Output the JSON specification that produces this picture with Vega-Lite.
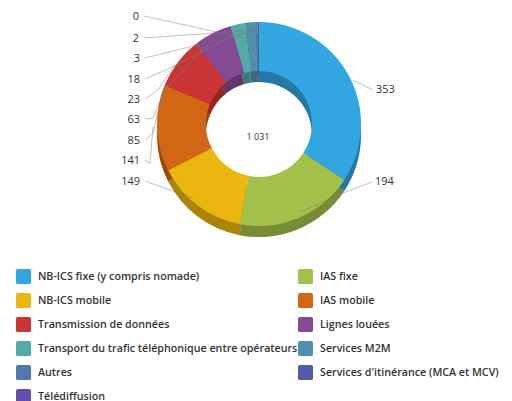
{"$schema":"https://vega.github.io/schema/vega-lite/v6.json","width":512,"height":248,"padding":0,"background":"white","view":{"stroke":null},
"config":{"font":"Open Sans"},
"datasets":{"slices":[
{"category":"NB-ICS fixe (y compris nomade)","value":353,"rank":1},
{"category":"IAS fixe","value":194,"rank":2},
{"category":"NB-ICS mobile","value":149,"rank":3},
{"category":"IAS mobile","value":141,"rank":4},
{"category":"Transmission de données","value":85,"rank":5},
{"category":"Lignes louées","value":63,"rank":6},
{"category":"Transport du trafic téléphonique entre opérateurs","value":23,"rank":7},
{"category":"Services M2M","value":18,"rank":8},
{"category":"Autres","value":3,"rank":9},
{"category":"Services d'itinérance (MCA et MCV)","value":2,"rank":10},
{"category":"Télédiffusion","value":0,"rank":11}],
"leaders":[
{"label":"0","side":"left","step":0,"anchor":1},{"label":"0","side":"left","step":1,"anchor":2},
{"label":"2","side":"left","step":0,"anchor":3},{"label":"2","side":"left","step":1,"anchor":4},
{"label":"3","side":"left","step":0,"anchor":5},{"label":"3","side":"left","step":1,"anchor":6},{"label":"3","side":"left","step":2,"anchor":7},
{"label":"18","side":"left","step":0,"anchor":8},{"label":"18","side":"left","step":1,"anchor":9},{"label":"18","side":"left","step":2,"anchor":10},{"label":"18","side":"left","step":3,"anchor":11},
{"label":"23","side":"left","step":0,"anchor":12},{"label":"23","side":"left","step":1,"anchor":13},{"label":"23","side":"left","step":2,"anchor":14},{"label":"23","side":"left","step":3,"anchor":15},
{"label":"63","side":"left","step":0,"anchor":16},{"label":"63","side":"left","step":1,"anchor":17},{"label":"63","side":"left","step":2,"anchor":18},{"label":"63","side":"left","step":3,"anchor":19},
{"label":"85","side":"left","step":0,"anchor":20},{"label":"85","side":"left","step":1,"anchor":21},{"label":"85","side":"left","step":2,"anchor":22},{"label":"85","side":"left","step":3,"anchor":23},
{"label":"141","side":"left","step":0,"anchor":24},{"label":"141","side":"left","step":1,"anchor":25},{"label":"141","side":"left","step":2,"anchor":26},
{"label":"149","side":"left","step":0,"anchor":27},{"label":"149","side":"left","step":1,"anchor":28},
{"label":"353","side":"right","step":0,"anchor":29},{"label":"353","side":"right","step":1,"anchor":30},
{"label":"194","side":"right","step":0,"anchor":31},{"label":"194","side":"right","step":1,"anchor":32},{"label":"194","side":"right","step":2,"anchor":33}],
"total":[{"total":"1 031"}]},
"layer":[
{"data":{"name":"slices"},"mark":{"type":"arc","outerRadius":102,"innerRadius":53,"yOffset":11,"xOffset":3},
"encoding":{"theta":{"field":"value","type":"quantitative","stack":true},"order":{"field":"rank","type":"quantitative"},
"color":{"field":"category","type":"nominal","scale":{"domain":["NB-ICS fixe (y compris nomade)","IAS fixe","NB-ICS mobile","IAS mobile","Transmission de données","Lignes louées","Transport du trafic téléphonique entre opérateurs","Services M2M","Autres","Services d'itinérance (MCA et MCV)","Télédiffusion"],"range":["#31a6e0","#a3c04a","#ebb60f","#d26614","#cb3535","#844b94","#53aaa6","#4f90ab","#5279ab","#535ca9","#634fac"]},
"legend":{"orient":"none","legendX":16,"legendY":269,"direction":"horizontal","columns":2,"title":null,"symbolType":"M-1,-0.75 Q-1,-1 -0.75,-1 L0.75,-1 Q1,-1 1,-0.75 L1,0.75 Q1,1 0.75,1 L-0.75,1 Q-1,1 -1,0.75 Z","symbolSize":225,"symbolStrokeWidth":0,"symbolOpacity":1,"labelFont":"Open Sans","labelFontSize":10.7,"labelFontWeight":600,"labelColor":"#333333","labelLimit":300,"labelOffset":7,"columnPadding":0,"rowPadding":9,"gridAlign":"all"}}}},
{"data":{"name":"slices"},"mark":{"type":"arc","outerRadius":102,"innerRadius":53,"yOffset":11,"xOffset":3,"fill":"#000000","fillOpacity":0.27},
"encoding":{"theta":{"field":"value","type":"quantitative","stack":true},"order":{"field":"rank","type":"quantitative"}}},
{"data":{"name":"slices"},"mark":{"type":"arc","outerRadius":102,"innerRadius":53,"xOffset":3},
"encoding":{"theta":{"field":"value","type":"quantitative","stack":true},"order":{"field":"rank","type":"quantitative"},"color":{"field":"category","type":"nominal"}}},
{"data":{"name":"leaders"},"mark":{"type":"line","stroke":"#777777","strokeWidth":1,"opacity":0.45,"interpolate":"linear"},
"encoding":{"x":{"field":"anchor","type":"quantitative","axis":null,"scale":{"domain":[1,2,3,4,5,6,7,8,9,10,11,12,13,14,15,16,17,18,19,20,21,22,23,24,25,26,27,28,29,30,31,32,33],"range":[144,258,144,258,145,197,257,145,170,230,254,145,158,173,232,145,153,165,202,145,153,163,190,145,150,153,145,193,373,353,372,343,300],"nice":false,"zero":false,"clamp":false}},
"y":{"field":"anchor","type":"quantitative","axis":null,"scale":{"domain":[1,2,3,4,5,6,7,8,9,10,11,12,13,14,15,16,17,18,19,20,21,22,23,24,25,26,27,28,29,30,31,32,33],"range":[16,41,38,30,58,45,30,79,68,37,30,99,90,67,37,119,118,90,50,140,133,90,65,160,163,127,181,198,90,80,182,193,212],"nice":false,"zero":false}},
"detail":{"field":"label","type":"nominal"},"order":{"field":"step","type":"quantitative"}}},
{"data":{"name":"leaders"},"transform":[{"filter":"datum.step == 0 && datum.side == 'left'"}],"mark":{"type":"text","align":"right","baseline":"middle","dx":-5,"dy":1,"fontSize":11,"color":"#333333","font":"Open Sans"},
"encoding":{"x":{"field":"anchor","type":"quantitative"},"y":{"field":"anchor","type":"quantitative"},"text":{"field":"label"}}},
{"data":{"name":"leaders"},"transform":[{"filter":"datum.step == 0 && datum.side == 'right'"}],"mark":{"type":"text","align":"left","baseline":"middle","dx":3,"fontSize":11,"color":"#333333","font":"Open Sans"},
"encoding":{"x":{"field":"anchor","type":"quantitative"},"y":{"field":"anchor","type":"quantitative"},"text":{"field":"label"}}},
{"data":{"name":"total"},"mark":{"type":"text","align":"center","baseline":"middle","dx":2,"dy":13,"fontSize":9,"color":"#333333","font":"Open Sans"},"encoding":{"text":{"field":"total"}}}
]}
